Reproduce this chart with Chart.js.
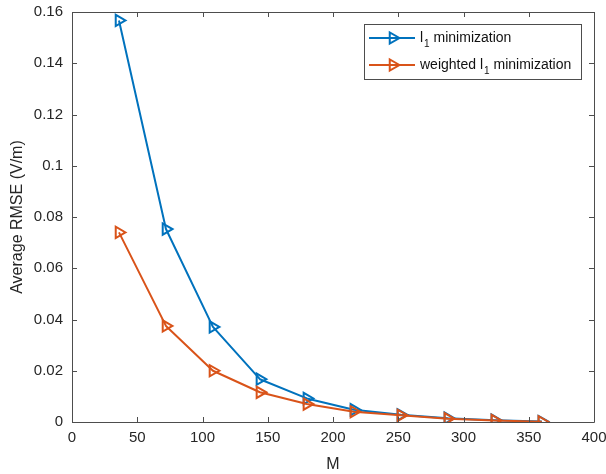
<!DOCTYPE html>
<html>
<head>
<meta charset="utf-8">
<script src="https://cdn.jsdelivr.net/npm/chart.js@4/dist/chart.umd.min.js"></script>
<style>
  html, body { margin: 0; padding: 0; background: #fff; }
  #wrap { width: 606px; height: 474px; }
</style>
</head>
<body>
<div id="wrap"><canvas id="c" width="606" height="474"></canvas></div>
<script>
const M = [36, 72, 108, 144, 180, 216, 252, 288, 324, 360];
const l1Min = [0.1567, 0.0753, 0.0371, 0.0167, 0.0092, 0.0048, 0.0028, 0.0015, 0.0007, 0.0002];
const weightedL1Min = [0.0740, 0.0375, 0.0200, 0.0116, 0.0070, 0.0040, 0.0026, 0.0013, 0.0006, 0.0001];
const seriesNames = ['l1 minimization', 'weighted l1 minimization'];
const xTicks = [0, 50, 100, 150, 200, 250, 300, 350, 400];
const yTicks = [0, 0.02, 0.04, 0.06, 0.08, 0.1, 0.12, 0.14, 0.16];

const BLUE = '#0072BD', ORANGE = '#D95319', AX = '#4d4d4d', TXT = '#262626';
const FONT = '"Liberation Sans", Arial, Helvetica, sans-serif';

function triPath(ctx, x, y, r) {
  ctx.beginPath();
  ctx.moveTo(x + r, y);
  ctx.lineTo(x - r * 0.5, y - r * 0.866);
  ctx.lineTo(x - r * 0.5, y + r * 0.866);
  ctx.closePath();
}

const framePlugin = {
  id: 'frame',
  afterDatasetsDraw(chart) {
    const { ctx, chartArea: a, scales } = chart;
    ctx.save();
    ctx.strokeStyle = AX;
    ctx.lineWidth = 1;
    ctx.beginPath();
    ctx.rect(Math.round(a.left) + 0.5, Math.round(a.top) + 0.5, Math.round(a.right - a.left), Math.round(a.bottom - a.top));
    ctx.stroke();
    const tl = 5;
    ctx.beginPath();
    xTicks.forEach(v => {
      const px = Math.round(scales.x.getPixelForValue(v)) + 0.5;
      ctx.moveTo(px, a.bottom); ctx.lineTo(px, a.bottom - tl);
      ctx.moveTo(px, a.top); ctx.lineTo(px, a.top + tl);
    });
    yTicks.forEach(v => {
      const py = Math.round(scales.y.getPixelForValue(v)) + 0.5;
      ctx.moveTo(a.left, py); ctx.lineTo(a.left + tl, py);
      ctx.moveTo(a.right, py); ctx.lineTo(a.right - tl, py);
    });
    ctx.stroke();

    // legend
    const lx = 364.5, ly = 24.5, lw = 217, lh = 55;
    ctx.fillStyle = '#fff';
    ctx.fillRect(lx, ly, lw, lh);
    ctx.strokeStyle = AX;
    ctx.strokeRect(lx, ly, lw, lh);
    const rows = [
      { color: BLUE, y: 38, pre: 'l', post: ' minimization' },
      { color: ORANGE, y: 65, pre: 'weighted l', post: ' minimization' }
    ];
    rows.forEach(r => {
      ctx.strokeStyle = r.color;
      ctx.lineWidth = 2;
      ctx.beginPath();
      ctx.moveTo(369, r.y); ctx.lineTo(415, r.y);
      ctx.stroke();
      triPath(ctx, 393, r.y, 6.5);
      ctx.stroke();
      ctx.fillStyle = '#111';
      ctx.textBaseline = 'middle';
      ctx.textAlign = 'left';
      ctx.font = '14px ' + FONT;
      let x = 420;
      ctx.fillText(r.pre, x, r.y);
      x += ctx.measureText(r.pre).width + 1;
      ctx.font = '10px ' + FONT;
      ctx.fillText('1', x, r.y + 6);
      x += ctx.measureText('1').width;
      ctx.font = '14px ' + FONT;
      ctx.fillText(r.post, x, r.y);
    });
    ctx.restore();
  }
};

const fmt = v => String(Number(v.toFixed(2)));

new Chart(document.getElementById('c'), {
  type: 'line',
  data: {
    datasets: [
      {
        label: seriesNames[0],
        data: M.map((m, i) => ({ x: m, y: l1Min[i] })),
        borderColor: BLUE, backgroundColor: 'transparent',
        pointBorderColor: BLUE, pointBackgroundColor: 'transparent',
        borderWidth: 2, pointStyle: 'triangle', pointRotation: 90,
        pointRadius: 6.5, pointBorderWidth: 2, tension: 0, order: 2
      },
      {
        label: seriesNames[1],
        data: M.map((m, i) => ({ x: m, y: weightedL1Min[i] })),
        borderColor: ORANGE, backgroundColor: 'transparent',
        pointBorderColor: ORANGE, pointBackgroundColor: 'transparent',
        borderWidth: 2, pointStyle: 'triangle', pointRotation: 90,
        pointRadius: 6.5, pointBorderWidth: 2, tension: 0, order: 1
      }
    ]
  },
  options: {
    responsive: false,
    animation: false,
    devicePixelRatio: 1,
    layout: { padding: { left: 0, right: 12, top: 12, bottom: 0 } },
    plugins: { legend: { display: false }, tooltip: { enabled: false } },
    elements: { line: { borderJoinStyle: 'round' } },
    scales: {
      x: {
        type: 'linear', min: 0, max: 400,
        afterBuildTicks: s => { s.ticks = xTicks.map(v => ({ value: v })); },
        afterFit: s => { s.height = 52; s.paddingLeft = 0; s.paddingRight = 0; },
        grid: { drawOnChartArea: false, drawTicks: false },
        border: { display: false },
        ticks: { color: TXT, font: { family: FONT, size: 15 }, padding: 7, maxRotation: 0, callback: v => String(v) },
        title: { display: true, text: 'M', color: TXT, font: { family: FONT, size: 16 }, padding: { top: 2, bottom: 0 } }
      },
      y: {
        type: 'linear', min: 0, max: 0.16,
        afterBuildTicks: s => { s.ticks = yTicks.map(v => ({ value: v })); },
        afterFit: s => { s.width = 72; s.paddingTop = 0; s.paddingBottom = 0; },
        grid: { drawOnChartArea: false, drawTicks: false },
        border: { display: false },
        ticks: { color: TXT, font: { family: FONT, size: 15 }, padding: 9, callback: v => fmt(v) },
        title: { display: true, text: 'Average RMSE (V/m)', color: TXT, font: { family: FONT, size: 16 }, padding: { top: 8, bottom: 0 } }
      }
    }
  },
  plugins: [framePlugin]
});
</script>
</body>
</html>
